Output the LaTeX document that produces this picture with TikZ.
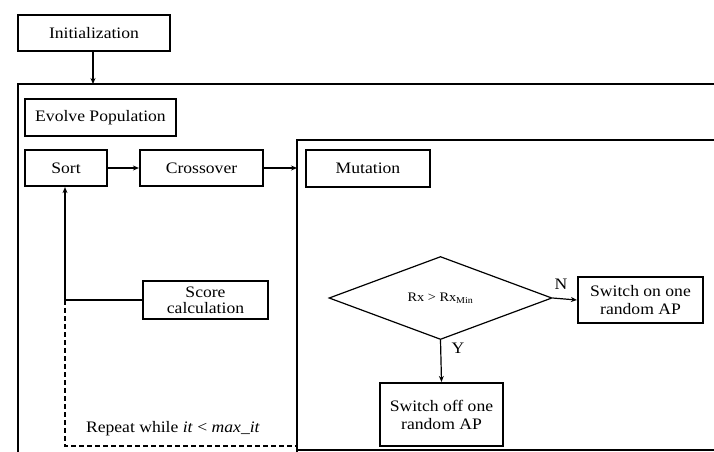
\documentclass[tikz,border=0pt]{standalone}
\usepackage{fontspec}
\setmainfont{Liberation Serif}[FakeStretch=1.1]
\usetikzlibrary{shapes.geometric,arrows.meta}
\begin{document}
\begin{tikzpicture}[x=1pt,y=-1pt,
  box/.style={draw,line width=2.2pt,inner sep=1pt,align=center,font=\fontsize{16}{17}\selectfont},
  conn/.style={line width=1.2pt},
  arr/.style={conn,-{Stealth[length=6pt,width=5pt]}},
  lbl/.style={font=\fontsize{16}{17}\selectfont,inner sep=0pt}]
\useasboundingbox (0,0) rectangle (714,451);
\clip (0,0) rectangle (714,451);
\fill[white] (0,0) rectangle (714,451);
% frames
\draw[line width=2.4pt] (18,470) -- (18,84) -- (730,84);
\draw[line width=1.8pt] (297,470) |- (730,140);
\draw[line width=1.8pt] (297,450) -- (730,450);
% boxes
\node[box,minimum width=152pt,minimum height=36pt] (init) at (94,33) {Initialization};
\node[box,minimum width=151pt,minimum height=37pt] (evolve) at (100.5,117.5) {Evolve Population};
\node[box,minimum width=82pt,minimum height=36pt] (sort) at (66,168) {Sort};
\node[box,minimum width=123pt,minimum height=36pt] (cross) at (201.5,168) {Crossover};
\node[box,minimum width=124pt,minimum height=37pt] (mut) at (368,168.5) {Mutation};
\node[box,minimum width=125pt,minimum height=38pt,font=\fontsize{16}{16}\selectfont] (score) at (205.5,300) {Score\\calculation};
\node[draw,diamond,line width=1.2pt,aspect=2.69,inner sep=0pt,minimum width=223pt,minimum height=83pt,font=\fontsize{13}{14}\selectfont] (dec) at (440.5,298) {Rx > Rx\textsubscript{Min}};
\node[box,minimum width=125pt,minimum height=46pt,font=\fontsize{16}{18}\selectfont] (swon) at (640.5,300) {Switch on one\\random AP};
\node[box,minimum width=123pt,minimum height=63pt,font=\fontsize{16}{18}\selectfont] (swoff) at (441.5,414.5) {Switch off one\\random AP};
% coordinates
\coordinate (outtop) at (93,84);
\coordinate (mutleft) at (297,168);
\coordinate (join) at (65,300);
\coordinate (dlow) at (65,446);
\coordinate (dright) at (297,446);
% connectors
\draw[arr] (init.south -| outtop) -- (outtop);
\draw[arr] (sort.east) -- (cross.west);
\draw[arr] (cross.east) -- (mutleft);
\draw[conn] (score.west) -- (join);
\draw[arr] (join) -- (join |- sort.south);
\draw[conn,dash pattern=on 5pt off 3pt] (join) -- (dlow) -- (dright);
\draw[arr] (dec.east) -- (swon.west);
\draw[arr] (dec.south) -- (swoff.north);
% labels
\node[lbl] (nl) at (561,284) {N};
\node[lbl] (yl) at (458,348) {Y};
\node[lbl] (rep) at (173,429) {Repeat while \textit{it} < \textit{max\_it}};
\end{tikzpicture}
\end{document}
